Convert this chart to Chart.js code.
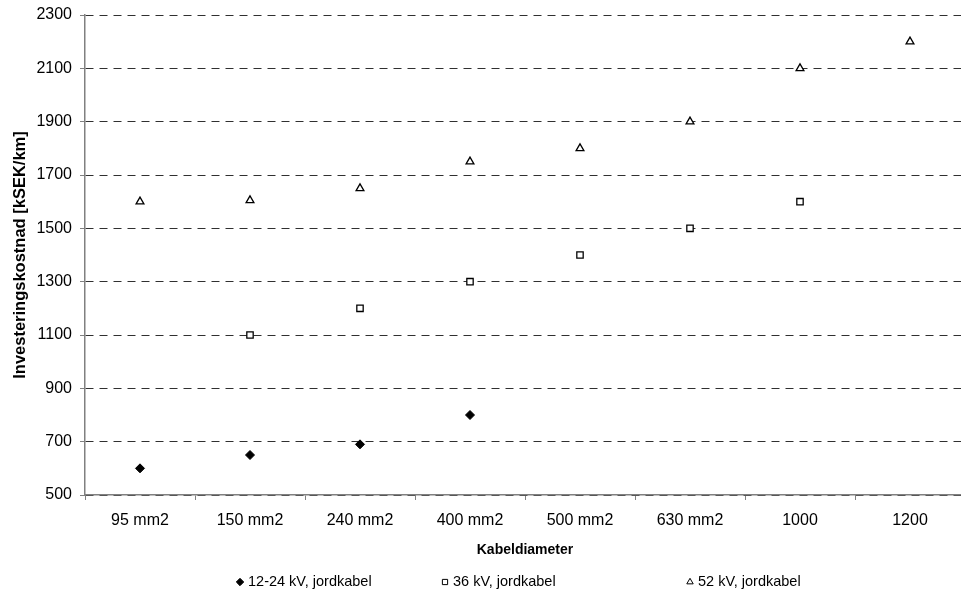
<!DOCTYPE html>
<html>
<head>
<meta charset="utf-8">
<script src="https://cdn.jsdelivr.net/npm/chart.js@4"></script>
<style>
  html, body { margin: 0; padding: 0; background: #fff; overflow: hidden; }
  #wrap { width: 975px; height: 599px; }
</style>
</head>
<body>
<div id="wrap"><canvas id="kabelChart"></canvas></div>
<script>
// Kategorier och värden
const categories = ['95 mm2', '150 mm2', '240 mm2', '400 mm2', '500 mm2', '630 mm2', '1000', '1200'];
const kv12_24 = [600, 650, 690, 800, null, null, null, null];
const kv36 = [null, 1100, 1200, 1300, 1400, 1500, 1600, null];
const kv52 = [1600, 1605, 1650, 1750, 1800, 1900, 2100, 2200];
const yTicks = [500, 700, 900, 1100, 1300, 1500, 1700, 1900, 2100, 2300];

const fontFamily = "'Liberation Sans', Arial, sans-serif";

// Legend under diagrammet, med fasta kolumner som i originalet
const bottomLegend = {
    id: 'bottomLegend',
    afterDraw(chart, args, opts) {
        const ctx = chart.ctx;
        ctx.save();
        ctx.font = '14.5px ' + fontFamily;
        ctx.textBaseline = 'middle';
        ctx.textAlign = 'left';
        chart.data.datasets.forEach((ds, i) => {
            const x = opts.columns[i];
            const y = opts.y;
            ctx.fillStyle = ds.backgroundColor;
            ctx.strokeStyle = ds.borderColor;
            ctx.lineWidth = 1;
            Chart.helpers.drawPoint(ctx, {
                pointStyle: ds.pointStyle,
                radius: 3.7,
                borderWidth: 1,
                rotation: 0
            }, x, y);
            ctx.fillStyle = '#000';
            ctx.fillText(ds.label, x + 8, y);
        });
        ctx.restore();
    }
};

const chartData = {
    labels: categories,
    datasets: [{
        label: '12-24 kV, jordkabel',
        data: kv12_24,
        pointStyle: 'rectRot',
        pointRadius: 4.5,
        backgroundColor: '#000',
        borderColor: '#000',
        borderWidth: 1
    }, {
        label: '36 kV, jordkabel',
        data: kv36,
        pointStyle: 'rect',
        pointRadius: 4.5,
        backgroundColor: '#fff',
        borderColor: '#000',
        borderWidth: 1.3
    }, {
        label: '52 kV, jordkabel',
        data: kv52,
        pointStyle: 'triangle',
        pointRadius: 4.5,
        backgroundColor: '#fff',
        borderColor: '#000',
        borderWidth: 1.3
    }]
};

const chartConfig = {
    type: 'line',
    data: chartData,
    plugins: [bottomLegend],
    options: {
        responsive: true,
        maintainAspectRatio: false,
        animation: false,
        showLine: false,
        layout: { padding: { top: 15, right: 10, left: 0, bottom: 32 } },
        plugins: {
            tooltip: { enabled: false },
            legend: { display: false },
            bottomLegend: { columns: [240, 445, 690], y: 582 }
        },
        scales: {
            x: {
                offset: true,
                grid: {
                    offset: true,
                    drawOnChartArea: false,
                    tickLength: 5,
                    tickColor: '#808080'
                },
                border: { color: '#808080', width: 1.5 },
                ticks: {
                    color: '#000',
                    padding: 11,
                    font: { family: fontFamily, size: 16 }
                },
                title: {
                    display: true,
                    text: 'Kabeldiameter',
                    color: '#000',
                    padding: { top: 4, bottom: 8 },
                    font: { family: fontFamily, size: 14, weight: 'bold' }
                },
                afterFit: function (scale) { scale.height = 72; }
            },
            y: {
                min: 500,
                max: 2300,
                afterBuildTicks: function (scale) {
                    scale.ticks = yTicks.map(v => ({ value: v }));
                },
                grid: {
                    color: '#303030',
                    lineWidth: 1,
                    tickLength: 5,
                    tickColor: '#808080'
                },
                border: { color: '#808080', width: 1.5, dash: [8, 6] },
                ticks: {
                    color: '#000',
                    padding: 8,
                    font: { family: fontFamily, size: 16 },
                    callback: function (value) { return String(value); }
                },
                title: {
                    display: true,
                    text: 'Investeringskostnad [kSEK/km]',
                    color: '#000',
                    padding: { top: 11, bottom: 2 },
                    font: { family: fontFamily, size: 16.5, weight: 'bold' }
                },
                afterFit: function (scale) {
                    scale.width = 85;
                    scale.paddingTop = 0;
                    scale.paddingBottom = 0;
                }
            }
        }
    }
};

const kabelChart = new Chart(
    document.getElementById('kabelChart'),
    chartConfig
);
</script>
</body>
</html>
